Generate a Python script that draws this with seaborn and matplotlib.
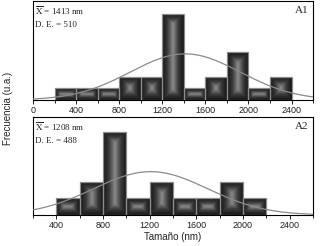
import numpy as np
import matplotlib
matplotlib.use('Agg')
import matplotlib.pyplot as plt
import seaborn as sns
from matplotlib.colors import LinearSegmentedColormap
from matplotlib.ticker import MultipleLocator

sns.set_style("white")
plt.rcParams['font.family'] = ['Liberation Sans', 'DejaVu Sans']
plt.rcParams['mathtext.fontset'] = 'stix'

# Data (bin centres, counts)
bins_a1 = [300, 500, 700, 900, 1100, 1300, 1500, 1700, 1900, 2100, 2300]
counts_a1 = [1, 1, 1, 2, 2, 7.4, 1, 2, 4.1, 1, 2]
mean_a1, sd_a1, peak_a1 = 1413, 510, 3.95

bins_a2 = [500, 700, 900, 1100, 1300, 1500, 1700, 1900, 2100]
counts_a2 = [1, 2, 5, 1, 2, 1, 1, 2, 1]
mean_a2, sd_a2, peak_a2 = 1208, 488, 2.6

panels = [
    dict(bins=bins_a1, counts=counts_a1, mean=mean_a1, sd=sd_a1, peak=peak_a1,
         label='A1', xlim=(0, 2600), ylim=(0, 8.48), ticks=range(0, 2401, 400)),
    dict(bins=bins_a2, counts=counts_a2, mean=mean_a2, sd=sd_a2, peak=peak_a2,
         label='A2', xlim=(200, 2600), ylim=(0, 5.87), ticks=range(400, 2401, 400)),
]

cmap = LinearSegmentedColormap.from_list('bevel', ['#141414', '#3a3a3a', '#8a8a8a'])

fig = plt.figure(figsize=(3.32, 2.46), dpi=100)
axes = [fig.add_axes([0.0994, 0.5935, 0.8436, 0.4025]),
        fig.add_axes([0.0994, 0.126, 0.8436, 0.398])]

for ax, p in zip(axes, panels):
    ax.set_xlim(*p['xlim'])
    ax.set_ylim(*p['ylim'])
    sns.histplot(x=p['bins'], weights=p['counts'], binwidth=200,
                 binrange=(min(p['bins']) - 100, max(p['bins']) + 100),
                 ax=ax, stat='count', element='bars',
                 facecolor='none', edgecolor='#8c8c8c', linewidth=0.9)
    ax.set_xlim(*p['xlim'])
    ax.set_ylim(*p['ylim'])
    # bevel gradient inside each bar
    sx = abs(ax.transData.transform((1, 0))[0] - ax.transData.transform((0, 0))[0])
    sy = abs(ax.transData.transform((0, 1))[1] - ax.transData.transform((0, 0))[1])
    for patch in ax.patches:
        x0, y0 = patch.get_x(), patch.get_y()
        w, h = patch.get_width(), patch.get_height()
        if h <= 0:
            continue
        wp, hp = w * sx, h * sy
        nx, ny = 120, max(int(120 * hp / wp), 20)
        u = np.linspace(0, wp, nx)
        v = np.linspace(0, hp, ny)
        U, V = np.meshgrid(u, v)
        d = np.minimum(np.minimum(U, wp - U), np.minimum(V, hp - V))
        val = np.clip(d / (0.5 * min(wp, hp)), 0, 1)
        im = ax.imshow(val, cmap=cmap, vmin=0, vmax=1, aspect='auto',
                       extent=(x0, x0 + w, y0, y0 + h), origin='lower',
                       interpolation='bilinear', zorder=1)
        im.set_clip_path(patch)
        patch.set_zorder(2)
    # fitted normal curve
    xs = np.linspace(p['xlim'][0], p['xlim'][1], 400)
    ys = p['peak'] * np.exp(-0.5 * ((xs - p['mean']) / p['sd']) ** 2)
    sns.lineplot(x=xs, y=ys, ax=ax, color='#8a8a8a', linewidth=0.9, zorder=3)
    ax.set_xlim(*p['xlim'])
    ax.set_ylim(*p['ylim'])

    ax.set_xticks(list(p['ticks']))
    ax.xaxis.set_minor_locator(MultipleLocator(200))
    ax.tick_params(axis='x', which='major', length=3, width=0.7, labelsize=6.5,
                   pad=1, colors='#222222', direction='out', bottom=True)
    ax.tick_params(axis='x', which='minor', length=2, width=0.7,
                   direction='out', bottom=True, colors='#222222')
    ax.set_yticks([])
    ax.set_ylabel('')
    for s in ax.spines.values():
        s.set_visible(True)
        s.set_color('black')
        s.set_linewidth(0.8)

    ax.text(0.008, 0.97, r'$\overline{\mathrm{X}}$' + f' = {p["mean"]} nm',
            transform=ax.transAxes, fontsize=6.5, family='Liberation Serif',
            va='top', ha='left')
    ax.text(0.008, 0.80, f'D. E. = {p["sd"]}', transform=ax.transAxes,
            fontsize=6.5, family='Liberation Serif', va='top', ha='left')
    ax.text(0.985, 0.95, p['label'], transform=ax.transAxes, fontsize=8,
            family='Liberation Serif', va='top', ha='right')

axes[1].set_xlabel('Tamaño (nm)', fontsize=7, labelpad=2, color='#222222')
fig.text(0.025, 0.56, 'Frecuencia (u.a.)', rotation=90, fontsize=7,
         va='center', ha='center', color='#222222')

fig.savefig('out.png', dpi=100)
